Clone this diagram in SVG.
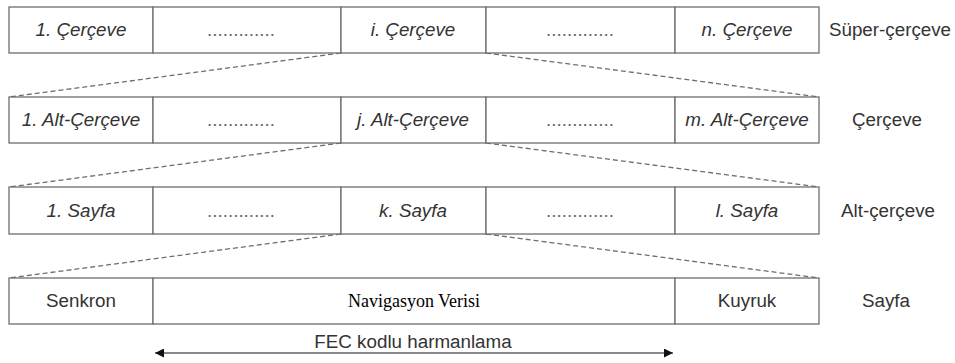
<svg xmlns="http://www.w3.org/2000/svg" width="955" height="363" viewBox="0 0 955 363">
<defs>
<style>
.box{fill:#fff;stroke:#6e6e6e;stroke-width:1.3}
.t{font-family:"Liberation Sans",Arial,sans-serif;font-size:18.8px;fill:#333;text-anchor:middle}
.i{font-style:italic}
.d{font-family:"Liberation Sans",Arial,sans-serif;font-size:18.8px;fill:#666;text-anchor:middle}
.s{font-family:"Liberation Serif","Times New Roman",serif;font-size:18px;fill:#000;text-anchor:middle}
.dash{stroke:#6e6e6e;stroke-width:1.3;stroke-dasharray:5,3;fill:none}
.arr{stroke:#888;stroke-width:1.8;fill:none}
</style>
<marker id="ah" viewBox="0 0 10 10" refX="10" refY="5" markerWidth="11" markerHeight="9" markerUnits="userSpaceOnUse" orient="auto-start-reverse">
<path d="M0,0 L10,5 L0,10 z" fill="#111"/>
</marker>
</defs>
<rect width="955" height="363" fill="#fff"/>
<g id="connectors">
<line class="dash" x1="341" y1="53" x2="9" y2="97"/>
<line class="dash" x1="486" y1="53" x2="819" y2="97"/>
<line class="dash" x1="341" y1="143" x2="9" y2="187"/>
<line class="dash" x1="486" y1="143" x2="819" y2="187"/>
<line class="dash" x1="341" y1="234" x2="9" y2="278"/>
<line class="dash" x1="486" y1="234" x2="819" y2="278"/>
<line class="arr" x1="155" y1="353" x2="673" y2="353" marker-start="url(#ah)" marker-end="url(#ah)"/>
</g>
<g id="row1">
<g id="r1c1"><rect class="box" x="9" y="7" width="144" height="46"/><text class="t i" x="81" y="36">1. Çerçeve</text></g>
<g id="r1c2"><rect class="box" x="153" y="7" width="188" height="46"/><text class="d" x="241" y="36">.............</text></g>
<g id="r1c3"><rect class="box" x="341" y="7" width="145" height="46"/><text class="t i" x="413" y="36">i. Çerçeve</text></g>
<g id="r1c4"><rect class="box" x="486" y="7" width="189" height="46"/><text class="d" x="580" y="36">.............</text></g>
<g id="r1c5"><rect class="box" x="675" y="7" width="144" height="46"/><text class="t i" x="747" y="36">n. Çerçeve</text></g>
<text id="lbl1" class="t" x="890" y="36">Süper-çerçeve</text>
</g>
<g id="row2">
<g id="r2c1"><rect class="box" x="9" y="97" width="144" height="46"/><text class="t i" x="81" y="126">1. Alt-Çerçeve</text></g>
<g id="r2c2"><rect class="box" x="153" y="97" width="188" height="46"/><text class="d" x="241" y="126">.............</text></g>
<g id="r2c3"><rect class="box" x="341" y="97" width="145" height="46"/><text class="t i" x="413" y="126">j. Alt-Çerçeve</text></g>
<g id="r2c4"><rect class="box" x="486" y="97" width="189" height="46"/><text class="d" x="580" y="126">.............</text></g>
<g id="r2c5"><rect class="box" x="675" y="97" width="144" height="46"/><text class="t i" x="747" y="126">m. Alt-Çerçeve</text></g>
<text id="lbl2" class="t" x="887" y="126">Çerçeve</text>
</g>
<g id="row3">
<g id="r3c1"><rect class="box" x="9" y="187" width="144" height="47"/><text class="t i" x="81" y="217">1. Sayfa</text></g>
<g id="r3c2"><rect class="box" x="153" y="187" width="188" height="47"/><text class="d" x="241" y="217">.............</text></g>
<g id="r3c3"><rect class="box" x="341" y="187" width="145" height="47"/><text class="t i" x="413" y="217">k. Sayfa</text></g>
<g id="r3c4"><rect class="box" x="486" y="187" width="189" height="47"/><text class="d" x="580" y="217">.............</text></g>
<g id="r3c5"><rect class="box" x="675" y="187" width="144" height="47"/><text class="t i" x="747" y="217">l. Sayfa</text></g>
<text id="lbl3" class="t" x="888" y="217">Alt-çerçeve</text>
</g>
<g id="row4">
<g id="r4c1"><rect class="box" x="9" y="278" width="144" height="46"/><text class="t" x="81" y="307">Senkron</text></g>
<g id="r4c2"><rect class="box" x="153" y="278" width="522" height="46"/><text class="s" x="414" y="307">Navigasyon Verisi</text></g>
<g id="r4c3"><rect class="box" x="675" y="278" width="144" height="46"/><text class="t" x="747" y="307">Kuyruk</text></g>
<text id="lbl4" class="t" x="886" y="307">Sayfa</text>
</g>
<text id="fec" class="t" x="413" y="348">FEC kodlu harmanlama</text>
</svg>
